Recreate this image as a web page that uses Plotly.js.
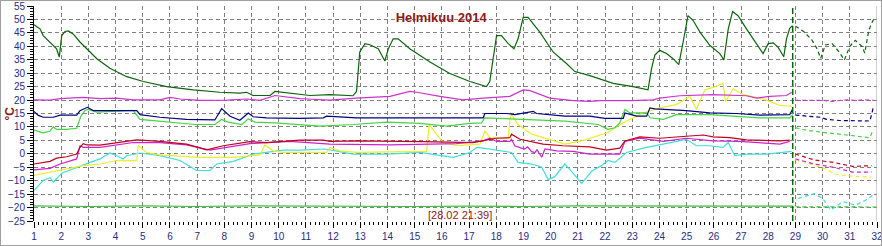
<!DOCTYPE html>
<html>
<head>
<meta charset="utf-8">
<script src="https://cdn.plot.ly/plotly-3.0.1.min.js"></script>
<style>
  html, body { margin: 0; padding: 0; background: #ffffff; }
  #wrap { position: relative; width: 882px; height: 246px; overflow: hidden; }
  #chart { position: absolute; left: 0; top: 0; width: 882px; height: 246px; }
  #frame { position: absolute; left: 0; top: 0; width: 880px; height: 244px; border: 1px solid #a0a0a0; pointer-events: none; }
</style>
</head>
<body>
<div id="wrap"><div id="chart"></div><div id="frame"></div></div>
<script>
// ---- data (day of month, °C) ----
const NOW = 28.9;
const nowLabel = '[28.02 21:39]';
const chartTitle = 'Helmikuu 2014';
const unitLabel = '°C';

const darkGreenX = [1.00,1.22,1.34,1.59,1.83,1.93,2.02,2.14,2.26,2.44,2.69,2.94,3.31,3.79,4.41,5.02,5.88,6.86,7.84,8.57,8.82,9.05,9.68,9.86,10.15,10.78,11.15,11.88,12.73,12.86,12.98,13.17,13.35,13.66,13.90,14.03,14.21,14.39,14.82,15.56,16.29,17.03,17.64,17.76,18.01,18.19,18.44,18.65,18.80,18.99,19.17,19.60,20.09,20.58,20.89,21.44,21.55,22.30,23.03,23.34,23.58,23.71,23.83,24.01,24.26,24.50,24.71,24.87,25.05,25.24,25.49,25.85,26.22,26.37,26.53,26.69,26.89,27.20,27.57,27.81,28.00,28.18,28.36,28.57,28.67,28.79,28.89,
  29.0,29.3,29.6,29.8,29.93,30.1,30.35,30.6,30.8,31.0,31.2,31.45,31.55,31.7,31.85,31.95];
const darkGreenY = [48,46.5,44,41.6,39.1,36,44,45.5,45.7,44.6,41.6,39.1,35.4,31.8,28.7,26.9,25,23.8,22.9,22.6,22.9,21.7,21.7,23.2,22.9,22,21.7,22,21.6,23.2,37.9,41,40.6,39.1,34.5,39.1,42.8,42.8,39.1,34.2,29.9,26.9,25,26.9,44,44,41,39.1,42.8,50.8,50.8,45.3,37.9,33.6,30.6,29.1,28.7,26.2,25,24.2,23.8,31.8,36.7,38.5,37.3,35.4,33.2,41.6,51.4,49.6,45.3,40.4,37.3,34.9,46.5,52.9,51.4,46.5,41,37.3,41,41.3,39.7,36.1,42.8,46.7,47.7,
  47.5,45.5,42.5,39,35.5,40.5,41,38,34.9,40,42.2,40,37.5,46,49.6,50.5];

const magentaX = [1.00,1.59,1.96,2.80,3.43,4.05,4.64,5.63,6.00,6.37,7.10,8.10,8.83,9.31,9.86,10.30,10.78,11.03,11.88,12.86,14.09,14.82,15.07,15.93,16.78,17.52,18.50,18.99,19.24,19.97,20.83,21.44,21.81,22.91,23.77,24.01,24.75,25.97,27.20,27.57,28.06,28.67,28.86,
  29.0,29.5,30.0,30.3,30.6,30.9,31.2,31.5,31.9];
const magentaY = [20.1,20,20.5,21,20.5,20.7,20.1,20.1,21,20.4,19.9,20,20.4,19.9,21.7,21.1,20.5,20.4,20,20.7,21.4,23.2,22.9,21.4,20.1,20.7,21.4,23.8,23.5,20.7,19.8,19.5,19.8,19.8,20.1,20.7,21.6,22,21.6,20.7,21.4,21.7,22.9,
  19.9,19.8,19.9,19.5,19.9,20.1,19.8,20.1,19.9];

const navyX = [1.00,1.16,1.34,1.71,1.96,2.57,2.69,2.81,2.96,3.18,4.78,4.90,5.63,6.61,7.65,7.90,8.21,8.57,8.88,9.06,9.55,10.78,11.64,11.76,12.86,17.52,17.58,18.38,18.68,19.36,19.48,20.52,21.44,21.99,22.67,22.73,23.16,23.53,23.65,23.83,24.38,24.99,25.85,26.83,27.69,28.79,28.89,
  29.0,29.93,30.14,30.63,31.74,31.86];
const navyY = [15.8,14.3,13.6,13.6,14.4,14.4,16,16.5,17.3,16.1,16.1,14.6,13.6,12.8,12.6,16.8,14,12.5,15.2,13.8,13.4,13.2,13.4,14,13.4,13.4,15,15,14.6,15.8,15,14,14,13.2,13.2,15.2,14,14,17.1,16.7,16.5,16.1,15.2,15,14.4,14.6,16.5,
  14.4,13.6,12.8,12.4,12.2,17.1];

const limeX = [1.00,1.34,1.59,1.71,1.83,2.20,2.57,2.67,2.72,2.88,3.00,3.31,4.65,4.90,5.26,6.37,6.92,7.65,7.90,8.14,8.64,8.88,9.13,9.86,11.51,12.74,13.97,15.19,16.17,17.03,17.46,17.58,18.44,19.30,20.52,21.75,22.11,22.36,22.54,22.73,22.91,23.53,23.65,24.14,24.63,25.85,27.08,27.69,28.79,28.9,
  29.0,29.4,30.0,30.63,31.74,31.86];
const limeY = [8.8,7.8,8.5,10,9.1,9.1,9.5,12.5,14,16.2,16.5,15.5,16.2,12.8,12.5,11.5,10.9,10.9,12.8,11.8,10.9,13,11.8,11.5,10.3,10.9,11.8,11.3,10.3,11.3,11.5,13.4,13,12.8,12.2,10.9,9.1,9.7,11.5,16.5,15.2,15.2,13.4,12.8,14.6,14.6,13.8,13.4,13.4,14.6,
  9.7,8.8,8.0,7.3,6.0,9.1];

const redX = [1.00,1.59,1.83,2.20,2.57,2.69,2.81,2.94,3.43,4.04,4.78,5.63,6.61,7.35,7.96,8.94,9.55,10.78,11.64,11.88,12.86,15.31,17.15,17.76,18.01,18.50,18.56,18.87,19.72,20.46,21.44,22.05,22.54,22.73,23.28,24.01,24.99,25.61,25.97,26.59,27.20,28.43,28.79,
  29.0,29.7,30.4,31.1,31.8];
const redY = [-3.8,-2.8,-1.6,-1.1,-0.1,2.4,3.8,3.3,3.2,4.2,5.2,4.6,3.6,1.5,3.0,4.5,4.2,5.1,5.1,4.6,4.8,4.5,4.2,5.4,5.8,6.0,7.3,5.4,3.6,3.0,2.6,1.4,2.1,4.8,6.3,5.8,6.6,7.0,6.3,6.0,5.2,4.8,5.1,
  -0.1,-2.3,-3.2,-4.7,-4.4];

const purpleX = [1.00,1.59,1.96,2.57,2.69,2.81,3.43,4.65,5.63,6.61,7.47,8.08,8.94,10.41,11.88,14.09,15.31,16.54,17.52,17.76,18.01,18.50,18.56,18.68,18.9,19.05,19.15,19.3,19.42,19.5,19.67,19.79,20.22,20.83,21.44,22.54,22.73,23.28,24.14,24.99,25.97,26.96,28.43,28.79,
  29.0,29.7,30.4,31.1,31.8];
const purpleY = [-6,-5.4,-3.8,-1.9,3.0,2.4,2.4,4.2,4.2,3.3,1.4,2.4,3.8,4.6,3.6,3.3,3.6,3.8,4.8,5.8,4.6,4.6,5.4,3.0,2.2,1.8,2.6,0.8,0.5,1.5,-1.3,1.8,1.1,0.9,-0.1,-0.1,4.6,5.8,4.6,5.8,4.8,4.6,3.6,4.6,
  -1.9,-3.8,-5.0,-6.8,-6.8];

const yellowX = [1.00,1.59,2.20,2.81,3.43,4.04,4.78,4.83,5.14,5.63,7.10,8.33,9.31,9.49,9.80,10.17,11.76,11.88,12.25,12.86,15.44,15.53,15.80,16.05,16.54,17.40,17.58,17.76,18.44,18.50,18.56,18.80,19.30,19.91,20.52,21.14,21.50,22.11,22.36,22.79,23.40,24.01,24.63,25.12,25.36,25.67,25.97,26.34,26.43,26.71,27.08,27.69,28.06,28.43,28.89,
  29.0,29.4,30.1,30.5,31.2,31.8];
const yellowY = [-8,-6.8,-5.6,-4.4,-3.8,-2.5,-2.5,3.0,0.5,-0.4,-1.3,-1.3,-0.4,3.3,1.1,0.5,0.5,2.4,1.1,0.5,0.9,10.9,7.3,4.2,3.0,3.6,8.5,6.0,5.7,12.8,14.6,10.9,7.3,5.4,3.6,4.8,6.0,7.9,9.7,12.2,15.2,17.1,18.3,21.4,16.5,23.8,24.7,26.2,19.5,24.2,22.0,20.7,19.5,18.0,17.7,
  -2.3,-3.2,-5.6,-7.7,-8.4,-8.7];

const cyanX = [1.00,1.34,1.59,1.71,2.02,2.57,3.06,3.43,3.79,4.04,4.28,4.41,4.90,5.63,6.37,6.98,7.47,7.72,8.33,9.06,9.55,10.17,10.78,11.70,12.74,13.97,15.19,16.42,17.03,17.28,17.58,18.25,18.56,18.80,19.30,19.67,19.91,20.15,20.52,20.77,21.14,21.30,21.50,21.87,22.11,22.36,22.79,23.40,24.63,24.99,25.36,25.85,26.34,26.53,26.77,27.20,27.94,28.43,28.86,
  29.1,29.7,30.0,30.3,30.75,31.2,31.6,31.85];
const cyanY = [-13.6,-9.9,-8.9,-10.5,-7.2,-5.0,-3.2,-1.9,0.3,-0.7,-1.9,-0.7,0.3,-0.7,-2.5,-6.2,-6.2,-3.8,-2.8,-0.1,0.5,1.4,1.4,1.8,-0.1,-0.1,0.5,-1.3,0.5,2.4,2.0,0.9,0.5,-3.2,-3.8,-5.0,-9.6,-8.5,-3.8,-6.5,-11.1,-9.0,-6.5,-4.4,-2.5,-3.2,0.5,2.1,4.8,5.4,3.0,3.0,2.4,4.2,-0.7,-0.1,-0.1,0.5,0.9,
  -16.6,-14.8,-16.6,-20.9,-17.8,-19.1,-17.2,-15.4];

const lowGreenX = [1,3,5,7,9,11,13,15,17,19,21,23,25,27,28.9, 29.0,30.0,31.0,32.0];
const lowGreenY = [-19.4,-19.6,-19.4,-19.6,-19.4,-19.5,-19.4,-19.6,-19.5,-19.6,-19.4,-19.5,-19.4,-19.5,-19.5, -19.7,-19.7,-19.8,-19.8];

// ---- styling ----
const seriesList = [
  {x: lowGreenX, y: lowGreenY, color: '#33c433'},
  {x: cyanX, y: cyanY, color: '#3fdede'},
  {x: yellowX, y: yellowY, color: '#eded2a'},
  {x: purpleX, y: purpleY, color: '#cc22cc'},
  {x: redX, y: redY, color: '#c0001c'},
  {x: limeX, y: limeY, color: '#44d444'},
  {x: navyX, y: navyY, color: '#00007f'},
  {x: magentaX, y: magentaY, color: '#cc33cc'},
  {x: darkGreenX, y: darkGreenY, color: '#0b650b'}
];

const traces = [];
seriesList.forEach(s => {
  const sx = [], sy = [], dx = [], dy = [];
  s.x.forEach((v, i) => {
    if (v <= NOW) { sx.push(v); sy.push(s.y[i]); }
    else { dx.push(v); dy.push(s.y[i]); }
  });
  traces.push({x: sx, y: sy, type: 'scatter', mode: 'lines', line: {color: s.color, width: 1.2}, hoverinfo: 'skip', showlegend: false});
  traces.push({x: dx, y: dy, type: 'scatter', mode: 'lines', line: {color: s.color, width: 1.2, dash: '4px,3px'}, hoverinfo: 'skip', showlegend: false});
});

const tickColor = '#2b2b80';
const titleColor = '#8b1a1a';

const layout = {
  width: 882, height: 246,
  margin: {l: 34, r: 5, t: 6, b: 25, pad: 0},
  paper_bgcolor: 'rgba(0,0,0,0)',
  plot_bgcolor: '#ffffff',
  font: {family: 'Arial, Liberation Sans, sans-serif', size: 10, color: tickColor},
  title: {text: '<b>' + chartTitle + '</b>', font: {size: 13, color: titleColor, family: 'Arial, Liberation Sans, sans-serif'},
          xref: 'paper', x: 0.483, xanchor: 'center', yref: 'container', y: 0.93, yanchor: 'middle'},
  xaxis: {
    range: [1, 32], tick0: 1, dtick: 1, ticks: 'outside', ticklen: 6, tickcolor: '#000', tickwidth: 1,
    showgrid: true, gridcolor: '#808080', griddash: '4px,3px', gridwidth: 1,
    zeroline: false, showline: false, ticklabeloverflow: 'allow',
    tickfont: {size: 10, color: tickColor},
    minor: {tick0: 1, dtick: 1/6, ticks: 'outside', ticklen: 3, tickcolor: '#000', showgrid: false}
  },
  yaxis: {
    range: [-25, 55], tick0: 0, dtick: 5, ticks: 'outside', ticklen: 6, tickcolor: '#000', tickwidth: 1,
    showgrid: true, gridcolor: '#808080', griddash: '4px,3px', gridwidth: 1,
    zeroline: false, showline: true, linecolor: '#000', linewidth: 1, ticklabeloverflow: 'allow',
    tickfont: {size: 10, color: tickColor},
    minor: {tick0: 0, dtick: 1, ticks: 'outside', ticklen: 3, tickcolor: '#000', showgrid: false}
  },
  shapes: [
    {type: 'line', xref: 'x', yref: 'paper', x0: 32, x1: 32, y0: 0, y1: 1, line: {color: '#a0a0a0', width: 1}},
    {type: 'line', xref: 'x', yref: 'paper', x0: NOW, x1: NOW, y0: 0, y1: 1, line: {color: '#0b650b', width: 1.5, dash: '6px,3px'}}
  ],
  annotations: [
    {text: nowLabel, xref: 'paper', yref: 'paper', x: 0.505, y: 0.028, xanchor: 'center', yanchor: 'middle', showarrow: false,
     font: {size: 11, color: titleColor}},
    {text: '<b>' + unitLabel + '</b>', xref: 'paper', yref: 'paper', x: -0.0285, y: 0.5, xanchor: 'center', yanchor: 'middle', textangle: -90, showarrow: false,
     font: {size: 12, color: titleColor}}
  ]
};

Plotly.newPlot('chart', traces, layout, {staticPlot: true, displayModeBar: false});
</script>
</body>
</html>
